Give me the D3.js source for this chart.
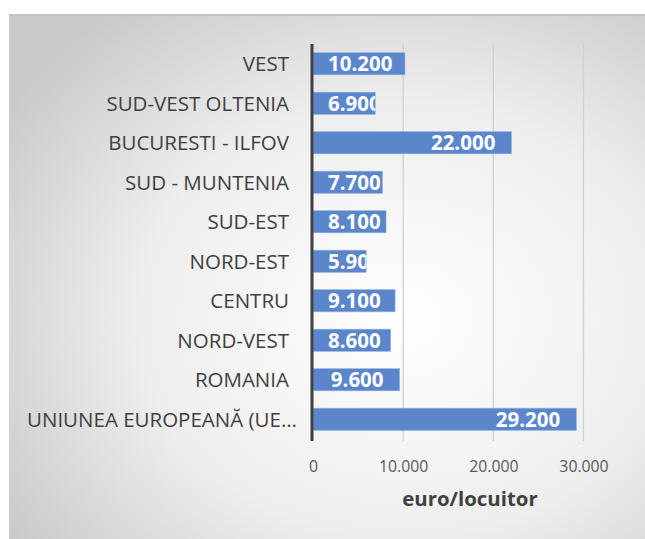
<!DOCTYPE html>
<html>
<head>
<meta charset="utf-8">
<script src="https://cdn.jsdelivr.net/npm/d3@7"></script>
<style>
  body { margin: 0; background: #fff; }
  text { font-family: "Open Sans", Lato, sans-serif; }
</style>
</head>
<body>
<div id="chart"></div>
<script>
const categories = ["VEST", "SUD-VEST OLTENIA", "BUCURESTI - ILFOV", "SUD - MUNTENIA", "SUD-EST",
                    "NORD-EST", "CENTRU", "NORD-VEST", "ROMANIA", "UNIUNEA EUROPEANĂ (UE-28)"];
const values = [10200, 6900, 22000, 7700, 8100, 5900, 9100, 8600, 9600, 29200];
const tickValues = [0, 10000, 20000, 30000];
const axisTitle = "euro/locuitor";

const W = 645, H = 539;
const margin = {top: 44, left: 313, right: 62, bottom: 100};

const svg = d3.select("#chart").append("svg")
    .attr("width", W)
    .attr("height", H);

// background panel with soft radial gradient
const defs = svg.append("defs");
const grad = defs.append("radialGradient")
    .attr("id", "bg")
    .attr("cx", "62%").attr("cy", "58%").attr("r", "75%");
grad.append("stop").attr("offset", "0%").attr("stop-color", "#ffffff");
grad.append("stop").attr("offset", "55%").attr("stop-color", "#eeeeee");
grad.append("stop").attr("offset", "100%").attr("stop-color", "#c9c9c9");

svg.append("rect")
    .attr("x", 9).attr("y", 15)
    .attr("width", W - 9).attr("height", H - 15)
    .attr("fill", "url(#bg)");
svg.append("line")
    .attr("x1", 9).attr("x2", W).attr("y1", 15).attr("y2", 15)
    .attr("stroke", "#c4c4c4").attr("stroke-width", 2);

const x = d3.scaleLinear()
    .domain([0, 30000])
    .range([margin.left, margin.left + 270.5]);

const y = d3.scaleBand()
    .domain(categories)
    .range([margin.top, 439])
    .paddingInner(0.44)
    .paddingOuter(0.22);

// gridlines
svg.append("g")
  .selectAll("line")
  .data(tickValues.slice(1))
  .enter().append("line")
    .attr("x1", d => x(d)).attr("x2", d => x(d))
    .attr("y1", margin.top).attr("y2", 441)
    .attr("stroke", "#d0d0d0")
    .attr("stroke-width", 1.3);

// bars
const bars = svg.append("g");
categories.forEach((c, i) => {
  defs.append("clipPath").attr("id", "clip" + i)
    .append("rect")
      .attr("x", x(0)).attr("y", y(c))
      .attr("width", x(values[i]) - x(0))
      .attr("height", y.bandwidth());
});

bars.selectAll("rect")
  .data(values)
  .enter().append("rect")
    .attr("x", x(0))
    .attr("y", (d, i) => y(categories[i]))
    .attr("width", d => x(d) - x(0))
    .attr("height", y.bandwidth())
    .attr("fill", "#5b86cc")
    .attr("stroke", "#8fb0e0")
    .attr("stroke-width", 0.6);

const fmt = d => d3.format(",")(d).replace(/,/g, ".");

// data labels: inside end, pushed right of the base when too wide, clipped to bar
bars.selectAll("text")
  .data(values)
  .enter().append("text")
    .attr("clip-path", (d, i) => "url(#clip" + i + ")")
    .attr("y", (d, i) => y(categories[i]) + y.bandwidth() / 2)
    .attr("dy", "0.36em")
    .attr("fill", "#ffffff")
    .attr("font-size", "20.5px")
    .attr("font-weight", "bold")
    .text(d => fmt(d))
    .each(function(d) {
      const w = this.getComputedTextLength();
      const xx = Math.max(x(0) + 15, x(d) - 16 - w);
      d3.select(this).attr("x", xx);
    });

// category labels (long ones get cut with an ellipsis)
const catG = svg.append("g");
catG.selectAll("text")
  .data(categories)
  .enter().append("text")
    .attr("y", d => y(d) + y.bandwidth() / 2)
    .attr("dy", "0.36em")
    .attr("fill", "#404040")
    .attr("font-size", "20.5px")
    .text(d => d)
    .each(function() {
      const sel = d3.select(this);
      const maxW = 299 - 27;
      if (this.getComputedTextLength() > 289 - 27) {
        let t = sel.text();
        while (this.getComputedTextLength() > maxW && t.length > 1) {
          t = t.slice(0, -1).replace(/-$/, "");
          sel.text(t + "…");
        }
        sel.attr("x", 27).attr("text-anchor", "start");
      } else {
        sel.attr("x", 289).attr("text-anchor", "end");
      }
    });

// vertical axis line
svg.append("line")
    .attr("x1", x(0) - 1).attr("x2", x(0) - 1)
    .attr("y1", margin.top).attr("y2", 441)
    .attr("stroke", "#404040")
    .attr("stroke-width", 3);

// x axis tick labels
const xAxis = d3.axisBottom(x)
    .tickValues(tickValues)
    .tickSize(0)
    .tickPadding(0)
    .tickFormat(d => fmt(d));

const xg = svg.append("g")
    .attr("transform", "translate(0,472)")
    .call(xAxis);
xg.select(".domain").remove();
xg.selectAll("text")
    .attr("dy", null)
    .attr("fill", "#595959")
    .attr("font-size", "15.8px")
    .style("font-family", "'Open Sans', Lato, sans-serif");

svg.append("text")
    .attr("x", 470)
    .attr("y", 506)
    .attr("text-anchor", "middle")
    .attr("fill", "#404040")
    .attr("font-size", "20.4px")
    .attr("font-weight", "bold")
    .text(axisTitle);
</script>
</body>
</html>
